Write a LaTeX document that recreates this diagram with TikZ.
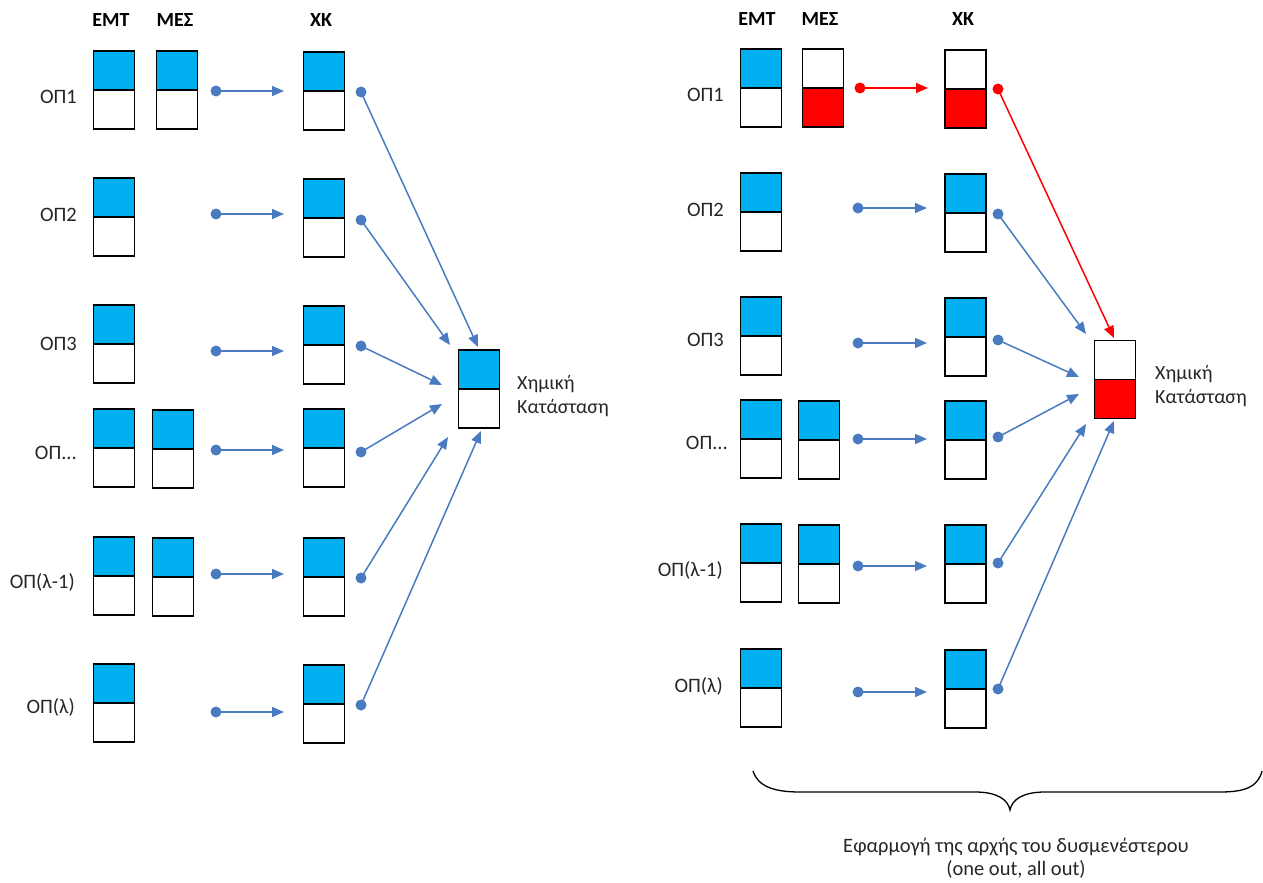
\documentclass[tikz,border=0pt]{standalone}
\usepackage{fontspec}
\setmainfont{Carlito}
\usetikzlibrary{arrows.meta}
\definecolor{cellblue}{HTML}{00B0F0}
\definecolor{arrblue}{HTML}{4A7BC0}
\definecolor{cellred}{HTML}{FF0000}
\tikzset{
  cell/.style 2 args={draw=black, line width=1.8pt, minimum width=41pt, minimum height=78pt, inner sep=0pt,
    path picture={
      \fill[#1] (path picture bounding box.north west) rectangle (path picture bounding box.east);
      \fill[#2] (path picture bounding box.west) rectangle (path picture bounding box.south east);
      \draw[line width=1.8pt] (path picture bounding box.west) -- (path picture bounding box.east);}},
  bluecell/.style={cell={cellblue}{white}},
  redcell/.style={cell={white}{cellred}},
  dotb/.style={circle, fill=arrblue, inner sep=0pt, minimum size=11pt},
  dotr/.style={circle, fill=cellred, inner sep=0pt, minimum size=11pt},
  arrb/.style={draw=arrblue, line width=1.5pt, -{Triangle[length=12pt,width=10pt]}},
  arrr/.style={draw=cellred, line width=1.5pt, -{Triangle[length=12pt,width=10pt]}},
  lbl/.style={font=\fontsize{20.5}{24}\selectfont, anchor=east, inner sep=0pt, text=black!85},
  hdr/.style={font=\fontsize{20}{24}\selectfont\bfseries, inner sep=0pt},
  chem/.style={font=\fontsize{20}{24}\selectfont, anchor=west, align=left, inner sep=0pt, text=black!85},
  note/.style={font=\fontsize{20.5}{23}\selectfont, align=center, inner sep=0pt, text=black!85},
}
\begin{document}
\begin{tikzpicture}[x=1pt, y=-1pt]
\useasboundingbox (0,0) rectangle (1263,883);

% ================= LEFT PANEL =================
\node[hdr] (hL1) at (111,20) {ΕΜΤ};
\node[hdr] (hL2) at (175,20) {ΜΕΣ};
\node[hdr] (hL3) at (321,20) {ΧΚ};

\node[bluecell] (Le1) at (114,90) {};
\node[bluecell] (Lm1) at (177,90) {};
\node[bluecell] (Lx1) at (324,91) {};
\node[bluecell] (Le2) at (114,217) {};
\node[bluecell] (Lx2) at (324,218) {};
\node[bluecell] (Le3) at (114,344) {};
\node[bluecell] (Lx3) at (324,345) {};
\node[bluecell] (Le4) at (114,448) {};
\node[bluecell] (Lm4) at (173,449) {};
\node[bluecell] (Lx4) at (324,448) {};
\node[bluecell] (Le5) at (114,576) {};
\node[bluecell] (Lm5) at (173,577) {};
\node[bluecell] (Lx5) at (324,577) {};
\node[bluecell] (Le6) at (114,703) {};
\node[bluecell] (Lx6) at (324,704) {};

\node[lbl] (Ll1) at (77,97) {ΟΠ1};
\node[lbl] (Ll2) at (77,215) {ΟΠ2};
\node[lbl] (Ll3) at (77,344) {ΟΠ3};
\node[lbl] (Ll4) at (77,453) {ΟΠ...};
\node[lbl] (Ll5) at (75,582) {ΟΠ(λ-1)};
\node[lbl] (Ll6) at (75,707) {ΟΠ(λ)};

\node[bluecell] (Lc) at (479,389) {};
\node[chem] (Lct) at (517,396) {Χημική\\Κατάσταση};

\foreach \i/\y in {1/91,2/214,3/351,4/450,5/574,6/712}{
  \node[dotb] (Ld\i) at (216,\y) {};
  \coordinate (Lt\i) at (284,\y);
  \draw[arrb] (Ld\i.center) -- (Lt\i);
}
\foreach \i/\y/\ex/\ey in {1/92/478/347,2/220/450/345,3/346/442/385,4/452/442/404,5/578/448/437,6/705/481/431}{
  \node[dotb] (Lo\i) at (361,\y) {};
  \coordinate (Le\i end) at (\ex,\ey);
  \draw[arrb] (Lo\i.center) -- (Le\i end);
}

% ================= RIGHT PANEL =================
\node[hdr] (hR1) at (757,19) {ΕΜΤ};
\node[hdr] (hR2) at (820,19) {ΜΕΣ};
\node[hdr] (hR3) at (963,19) {ΧΚ};

\node[bluecell] (Re1) at (761,88) {};
\node[redcell] (Rm1) at (823,88) {};
\node[redcell] (Rx1) at (965.5,89) {};
\node[bluecell] (Re2) at (761,212) {};
\node[bluecell] (Rx2) at (965.5,213) {};
\node[bluecell] (Re3) at (761,336) {};
\node[bluecell] (Rx3) at (965.5,337) {};
\node[bluecell] (Re4) at (761,439) {};
\node[bluecell] (Rm4) at (819,440) {};
\node[bluecell] (Rx4) at (965.5,440) {};
\node[bluecell] (Re5) at (761,563) {};
\node[bluecell] (Rm5) at (819,564) {};
\node[bluecell] (Rx5) at (965.5,564) {};
\node[bluecell] (Re6) at (761,688) {};
\node[bluecell] (Rx6) at (965.5,689) {};

\node[lbl] (Rl1) at (724,95) {ΟΠ1};
\node[lbl] (Rl2) at (724,210) {ΟΠ2};
\node[lbl] (Rl3) at (724,340) {ΟΠ3};
\node[lbl] (Rl4) at (728,443) {ΟΠ...};
\node[lbl] (Rl5) at (723,570) {ΟΠ(λ-1)};
\node[lbl] (Rl6) at (723,686) {ΟΠ(λ)};

\node[redcell] (Rc) at (1115,379.5) {};
\node[chem] (Rct) at (1155,386) {Χημική\\Κατάσταση};

\node[dotr] (Rd1) at (860,88) {};
\coordinate (Rt1) at (928,88);
\draw[arrr] (Rd1.center) -- (Rt1);
\foreach \i/\y in {2/208,3/343,4/439,5/566,6/692}{
  \node[dotb] (Rd\i) at (858,\y) {};
  \coordinate (Rt\i) at (927,\y);
  \draw[arrb] (Rd\i.center) -- (Rt\i);
}
\node[dotr] (Ro1) at (998,89) {};
\coordinate (Re1end) at (1114,338);
\draw[arrr] (Ro1.center) -- (Re1end);
\foreach \i/\y/\ex/\ey in {2/214/1086/334,3/340/1079/377,4/437/1079/394,5/563/1086/424,6/689/1114/421}{
  \node[dotb] (Ro\i) at (998,\y) {};
  \coordinate (Re\i end) at (\ex,\ey);
  \draw[arrb] (Ro\i.center) -- (Re\i end);
}

% brace
\draw[line width=1.3pt, black] (753,771) .. controls (758,787) and (775,792) .. (800,792)
  -- (975,792) .. controls (998,792) and (1008,800) .. (1010,810)
  .. controls (1012,800) and (1022,792) .. (1045,792)
  -- (1220,792) .. controls (1245,792) and (1258,787) .. (1262,771);

\node[note] (nt) at (1016,858) {Εφαρμογή της αρχής του δυσμενέστερου\\(one out, all out)};
\end{tikzpicture}
\end{document}
